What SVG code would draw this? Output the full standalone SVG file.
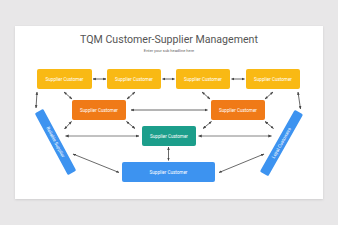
<svg xmlns="http://www.w3.org/2000/svg" width="338" height="225" viewBox="0 0 338 225">
<style>
.lbl{font-family:Roboto,"Liberation Sans",sans-serif;font-size:4.6px;fill:#ffffff;text-anchor:middle;dominant-baseline:central}
.yel{fill:#F9B914}
.org{fill:#F07A17}
.tea{fill:#1C9E8B}
.blu{fill:#3D93F0}
.c{stroke:#444;stroke-width:0.8;fill:none;marker-start:url(#ah);marker-end:url(#ah)}
.g{stroke:#777;stroke-width:0.9}
</style>
<defs>
<marker id="ah" viewBox="0 0 10 10" refX="9" refY="5" markerWidth="4" markerHeight="4" orient="auto-start-reverse" markerUnits="strokeWidth">
<path d="M0,1 L10,5 L0,9 z" fill="#444"/>
</marker>
<filter id="sh" x="-5%" y="-5%" width="110%" height="115%">
<feDropShadow dx="0" dy="0.8" stdDeviation="0.8" flood-color="#000" flood-opacity="0.12"/>
</filter>
</defs>
<rect width="338" height="225" fill="#E8E7E8"/>
<rect x="15" y="26" width="308" height="173" fill="#ffffff" filter="url(#sh)"/>
<text x="169" y="43.3" font-family="Roboto,'Liberation Sans',sans-serif" font-size="10.6" fill="#555" text-anchor="middle">TQM Customer-Supplier Management</text>
<text x="169" y="51.5" font-family="Roboto,'Liberation Sans',sans-serif" font-size="4" fill="#666" text-anchor="middle">Enter your sub headline here</text>

<g id="connectors">
<line class="c" x1="93" y1="79" x2="106" y2="79"/>
<line class="c" x1="162.5" y1="79" x2="174.5" y2="79"/>
<line class="c" x1="231.5" y1="79" x2="244.5" y2="79"/>
<line class="c" x1="64" y1="92" x2="72" y2="99"/>
<line class="c" x1="135" y1="92" x2="127" y2="99"/>
<line class="c" x1="202" y1="92" x2="210" y2="99"/>
<line class="c" x1="273" y1="92" x2="265" y2="99"/>
<line class="c" x1="131" y1="110" x2="207.5" y2="110"/>
<line class="c" x1="37" y1="92" x2="36" y2="108"/>
<line class="c" x1="298" y1="92" x2="300.5" y2="109"/>
<line class="c" x1="71.5" y1="121.5" x2="64.5" y2="129"/>
<line class="c" x1="265" y1="121.5" x2="273.5" y2="128.5"/>
<line class="c" x1="126.5" y1="121.5" x2="135" y2="128.5"/>
<line class="c" x1="211.5" y1="121.5" x2="203" y2="128.5"/>
<line class="c g" x1="65.5" y1="136" x2="139" y2="136"/>
<line class="c g" x1="198.5" y1="136" x2="271.5" y2="136"/>
<line class="c" x1="168.5" y1="147" x2="168.5" y2="160.5"/>
<line class="c" x1="73" y1="154" x2="119" y2="172.5"/>
<line class="c" x1="264" y1="154" x2="219" y2="172.5"/>
</g>

<g id="sc1"><rect class="yel" x="37" y="69" width="55" height="20" rx="2"/><text class="lbl" x="64.5" y="79">Supplier Customer</text></g>
<g id="sc2"><rect class="yel" x="107" y="69" width="54" height="20" rx="2"/><text class="lbl" x="134" y="79">Supplier Customer</text></g>
<g id="sc3"><rect class="yel" x="176" y="69" width="54" height="20" rx="2"/><text class="lbl" x="203" y="79">Supplier Customer</text></g>
<g id="sc4"><rect class="yel" x="246" y="69" width="54" height="20" rx="2"/><text class="lbl" x="273" y="79">Supplier Customer</text></g>
<g id="sc5"><rect class="org" x="72" y="100" width="54" height="20" rx="2"/><text class="lbl" x="99" y="110">Supplier Customer</text></g>
<g id="sc6"><rect class="org" x="211" y="100" width="54" height="20" rx="2"/><text class="lbl" x="238" y="110">Supplier Customer</text></g>
<g id="sc7"><rect class="tea" x="142" y="126" width="54" height="20" rx="2"/><text class="lbl" x="169" y="136">Supplier Customer</text></g>
<g id="sc8"><rect class="blu" x="122" y="162" width="93" height="20" rx="2"/><text class="lbl" x="168.5" y="172">Supplier Customer</text></g>
<g id="reliable" transform="translate(55.5,142) rotate(61.8)"><rect class="blu" x="-35" y="-4.8" width="70" height="9.6" rx="1.5"/><text class="lbl" x="0" y="0">Reliable Supplier</text></g>
<g id="loyal" transform="translate(281.5,143) rotate(-60.5)"><rect class="blu" x="-35.5" y="-4.8" width="71" height="9.6" rx="1.5"/><text class="lbl" x="0" y="0">Loyal Customers</text></g>
</svg>
